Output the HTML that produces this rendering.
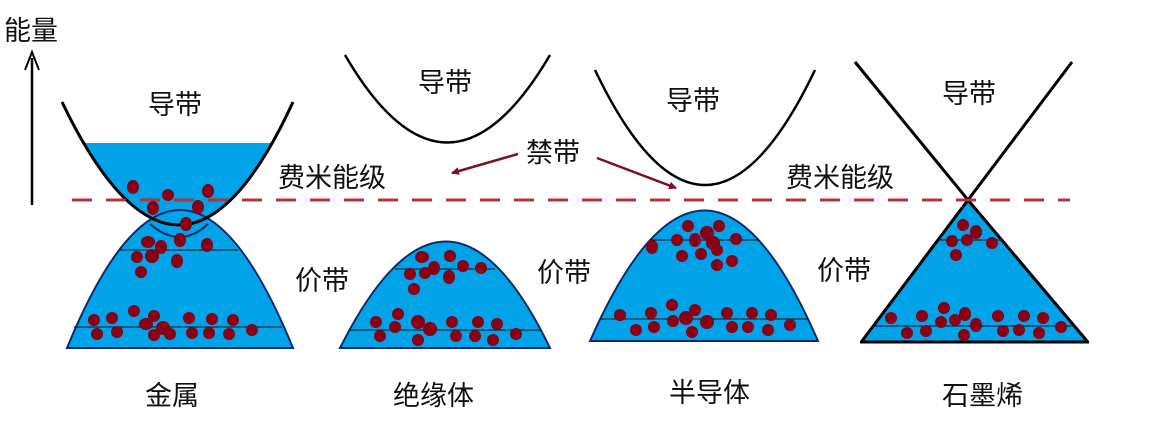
<!DOCTYPE html>
<html><head><meta charset="utf-8"><style>
body{margin:0;background:#fff}
svg{display:block}
text{font-family:"Liberation Sans","Noto Sans CJK SC",sans-serif;font-size:27px;fill:#111}
</style></head><body>
<svg width="1156" height="439" viewBox="0 0 1156 439">
<defs><marker id="ah" markerWidth="8" markerHeight="8" refX="7" refY="4" orient="auto" markerUnits="userSpaceOnUse"><path d="M0,0 L8,4 L0,8 z" fill="#7a1020"/></marker>
<clipPath id="mc"><path d="M62,102 Q180,348 293,102 Z"/></clipPath></defs>
<!-- axis -->
<line x1="32" y1="205" x2="32" y2="58" stroke="#000" stroke-width="2.5"/>
<path d="M25,70 L32,52 L39,70" fill="none" stroke="#000" stroke-width="2"/>
<text x="4" y="40">能量</text>

<!-- METAL -->
<rect x="60" y="143" width="240" height="100" fill="#00a2e8" clip-path="url(#mc)"/>
<path d="M67,348 Q180,72 293,348 Z" fill="#00a2e8" stroke="#0a2a6a" stroke-width="2"/>
<path d="M62,102 Q180,348 293,102" fill="none" stroke="#000" stroke-width="3"/>
<path d="M150,224 Q180,250 208,224" fill="none" stroke="#0a2a6a" stroke-width="2"/>
<line x1="120" y1="250" x2="238" y2="250" stroke="#111" stroke-width="1"/>
<line x1="74" y1="327" x2="282" y2="327" stroke="#111" stroke-width="1"/>

<!-- INSULATOR -->
<path d="M345,55 Q447,230 550,55" fill="none" stroke="#000" stroke-width="2.5"/>
<path d="M340,348 Q447,135 550,348 Z" fill="#00a2e8" stroke="#0a2a6a" stroke-width="2"/>
<line x1="395" y1="269" x2="495" y2="269" stroke="#111"/>
<line x1="350" y1="330" x2="540" y2="330" stroke="#111"/>

<!-- SEMICONDUCTOR -->
<path d="M595,70 Q705,300 815,70" fill="none" stroke="#000" stroke-width="2.5"/>
<path d="M590,341 Q705,80 818,341 Z" fill="#00a2e8" stroke="#0a2a6a" stroke-width="2"/>
<line x1="650" y1="240" x2="758" y2="240" stroke="#111"/>
<line x1="600" y1="319" x2="808" y2="319" stroke="#111"/>

<!-- GRAPHENE -->
<path d="M968,200 L862,341 L1087,341 Z" fill="#00a2e8"/>
<path d="M855,62 L968,200 L1072,62" fill="none" stroke="#000" stroke-width="3"/>
<path d="M968,200 L862,341 M968,200 L1087,341" stroke="#000" stroke-width="3"/>
<line x1="860" y1="342" x2="1089" y2="342" stroke="#000" stroke-width="3"/>
<line x1="937" y1="240" x2="1003" y2="240" stroke="#111"/>
<line x1="875" y1="326" x2="1075" y2="326" stroke="#111"/>

<!-- Fermi dashed -->
<line x1="72" y1="200" x2="1070" y2="200" stroke="#b5343c" stroke-width="3" stroke-dasharray="20,14"/>

<!-- dots -->
<g fill="#880015">
<ellipse cx="133" cy="187" rx="6" ry="7"/><ellipse cx="168" cy="195" rx="6" ry="6"/><ellipse cx="208" cy="191" rx="6" ry="7"/>
<ellipse cx="153" cy="208" rx="6" ry="7"/><ellipse cx="198" cy="207" rx="6" ry="7"/><ellipse cx="186" cy="224" rx="6" ry="7"/>
<ellipse cx="148" cy="242" rx="7" ry="6"/><ellipse cx="161" cy="247" rx="6" ry="7"/><ellipse cx="152" cy="256" rx="7" ry="7"/>
<ellipse cx="180" cy="240" rx="6" ry="7"/><ellipse cx="207" cy="245" rx="6" ry="7"/><ellipse cx="137" cy="257" rx="6" ry="6"/>
<ellipse cx="177" cy="261" rx="6" ry="7"/><ellipse cx="141" cy="272" rx="6" ry="6"/>
<ellipse cx="94" cy="320" rx="6" ry="6"/><ellipse cx="112" cy="318" rx="6" ry="6"/><ellipse cx="134" cy="311" rx="6" ry="6"/>
<ellipse cx="146" cy="324" rx="7" ry="6"/><ellipse cx="154" cy="316" rx="6" ry="6"/><ellipse cx="163" cy="328" rx="7" ry="7"/>
<ellipse cx="189" cy="318" rx="6" ry="6"/><ellipse cx="212" cy="319" rx="6" ry="6"/><ellipse cx="233" cy="320" rx="6" ry="6"/>
<ellipse cx="97" cy="334" rx="6" ry="6"/><ellipse cx="117" cy="332" rx="6" ry="6"/><ellipse cx="154" cy="335" rx="6" ry="6"/>
<ellipse cx="170" cy="334" rx="6" ry="6"/><ellipse cx="192" cy="333" rx="6" ry="6"/><ellipse cx="209" cy="333" rx="6" ry="6"/>
<ellipse cx="229" cy="334" rx="6" ry="6"/><ellipse cx="252" cy="330" rx="6" ry="6"/>

<ellipse cx="422" cy="257" rx="7" ry="6"/><ellipse cx="450" cy="256" rx="6" ry="6"/><ellipse cx="434" cy="268" rx="6" ry="7"/>
<ellipse cx="410" cy="274" rx="6" ry="6"/><ellipse cx="425" cy="273" rx="6" ry="6"/><ellipse cx="463" cy="266" rx="6" ry="6"/>
<ellipse cx="481" cy="268" rx="6" ry="6"/><ellipse cx="449" cy="277" rx="6" ry="7"/><ellipse cx="414" cy="289" rx="6" ry="6"/>
<ellipse cx="376" cy="322" rx="6" ry="6"/><ellipse cx="398" cy="314" rx="6" ry="6"/><ellipse cx="418" cy="322" rx="7" ry="7"/>
<ellipse cx="430" cy="329" rx="7" ry="7"/><ellipse cx="395" cy="327" rx="6" ry="6"/><ellipse cx="452" cy="322" rx="6" ry="6"/>
<ellipse cx="478" cy="322" rx="6" ry="6"/><ellipse cx="497" cy="324" rx="6" ry="6"/><ellipse cx="380" cy="336" rx="6" ry="6"/>
<ellipse cx="418" cy="340" rx="6" ry="6"/><ellipse cx="456" cy="336" rx="6" ry="6"/><ellipse cx="475" cy="336" rx="6" ry="6"/>
<ellipse cx="493" cy="340" rx="6" ry="6"/><ellipse cx="516" cy="334" rx="6" ry="6"/>

<ellipse cx="688" cy="226" rx="6" ry="6"/><ellipse cx="719" cy="226" rx="6" ry="6"/><ellipse cx="707" cy="233" rx="7" ry="7"/>
<ellipse cx="677" cy="240" rx="6" ry="6"/><ellipse cx="695" cy="240" rx="6" ry="7"/><ellipse cx="713" cy="243" rx="7" ry="7"/>
<ellipse cx="736" cy="239" rx="6" ry="6"/><ellipse cx="652" cy="247" rx="6" ry="7"/><ellipse cx="682" cy="256" rx="6" ry="6"/>
<ellipse cx="701" cy="254" rx="6" ry="6"/><ellipse cx="717" cy="250" rx="6" ry="6"/><ellipse cx="732" cy="261" rx="6" ry="6"/>
<ellipse cx="717" cy="265" rx="6" ry="6"/>
<ellipse cx="620" cy="315" rx="6" ry="6"/><ellipse cx="651" cy="313" rx="6" ry="6"/><ellipse cx="672" cy="305" rx="6" ry="6"/>
<ellipse cx="686" cy="318" rx="7" ry="7"/><ellipse cx="695" cy="310" rx="6" ry="6"/><ellipse cx="707" cy="322" rx="7" ry="7"/>
<ellipse cx="727" cy="313" rx="6" ry="6"/><ellipse cx="752" cy="313" rx="6" ry="6"/><ellipse cx="771" cy="315" rx="6" ry="6"/>
<ellipse cx="636" cy="330" rx="6" ry="6"/><ellipse cx="654" cy="327" rx="6" ry="6"/><ellipse cx="673" cy="321" rx="6" ry="6"/>
<ellipse cx="692" cy="332" rx="6" ry="6"/><ellipse cx="732" cy="327" rx="6" ry="6"/><ellipse cx="748" cy="327" rx="6" ry="6"/>
<ellipse cx="768" cy="330" rx="6" ry="6"/><ellipse cx="790" cy="325" rx="6" ry="6"/>

<ellipse cx="963" cy="225" rx="6" ry="6"/><ellipse cx="976" cy="232" rx="6" ry="7"/><ellipse cx="952" cy="241" rx="6" ry="6"/>
<ellipse cx="967" cy="240" rx="6" ry="6"/><ellipse cx="992" cy="243" rx="6" ry="6"/><ellipse cx="956" cy="255" rx="6" ry="6"/>
<ellipse cx="891" cy="318" rx="6" ry="6"/><ellipse cx="922" cy="316" rx="6" ry="6"/><ellipse cx="944" cy="308" rx="6" ry="6"/>
<ellipse cx="941" cy="322" rx="6" ry="6"/><ellipse cx="955" cy="320" rx="6" ry="6"/><ellipse cx="965" cy="314" rx="6" ry="7"/>
<ellipse cx="976" cy="325" rx="6" ry="7"/><ellipse cx="998" cy="316" rx="6" ry="6"/><ellipse cx="1024" cy="316" rx="6" ry="6"/>
<ellipse cx="1043" cy="318" rx="6" ry="6"/><ellipse cx="907" cy="333" rx="6" ry="6"/><ellipse cx="926" cy="331" rx="6" ry="6"/>
<ellipse cx="964" cy="335" rx="6" ry="6"/><ellipse cx="1003" cy="331" rx="6" ry="6"/><ellipse cx="1019" cy="330" rx="6" ry="6"/>
<ellipse cx="1039" cy="333" rx="6" ry="6"/><ellipse cx="1061" cy="327" rx="6" ry="6"/>
</g>

<!-- arrows -->
<line x1="518" y1="154" x2="452" y2="173" stroke="#7a1020" stroke-width="2.5" marker-end="url(#ah)"/>
<line x1="597" y1="158" x2="676" y2="188" stroke="#7a1020" stroke-width="2.5" marker-end="url(#ah)"/>

<!-- labels -->
<text x="148" y="114">导带</text>
<text x="418" y="92">导带</text>
<text x="666" y="110">导带</text>
<text x="942" y="103">导带</text>
<text x="526" y="162">禁带</text>
<text x="278" y="187">费米能级</text>
<text x="786" y="187">费米能级</text>
<text x="295" y="290">价带</text>
<text x="537" y="282">价带</text>
<text x="817" y="280">价带</text>
<text x="145" y="405">金属</text>
<text x="393" y="405">绝缘体</text>
<text x="669" y="402">半导体</text>
<text x="942" y="405">石墨烯</text>
</svg>
</body></html>
